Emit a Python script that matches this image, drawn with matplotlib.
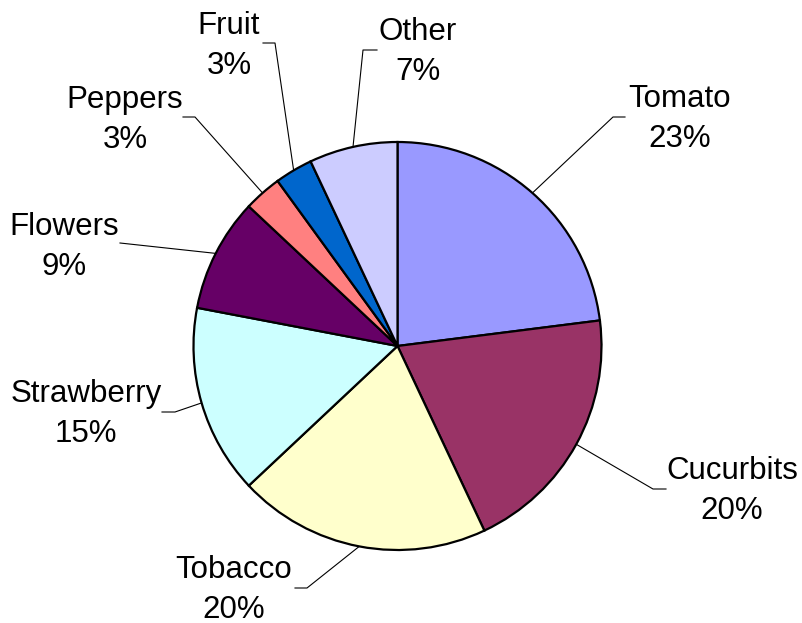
import matplotlib
matplotlib.use("Agg")
import matplotlib.pyplot as plt
import numpy as np

# Crop shares (percent), clockwise from 12 o'clock
categories = ["Tomato", "Cucurbits", "Tobacco", "Strawberry", "Flowers",
              "Peppers", "Fruit", "Other"]
shares = [23, 20, 20, 15, 9, 3, 3, 7]
colors = ["#9999FF", "#993366", "#FFFFCC", "#CCFFFF", "#660066",
          "#FF8080", "#0066CC", "#CCCCFF"]

W, H = 802, 623
fig = plt.figure(figsize=(W / 100, H / 100), dpi=100)
ax = fig.add_axes([0, 0, 1, 1])

cx, cy, r = 397.5, H - 346, 204
wedges, _ = ax.pie(shares, colors=colors, startangle=90, counterclock=False,
                   center=(cx, cy), radius=r, frame=True,
                   wedgeprops=dict(edgecolor="black", linewidth=1.6))
ax.set_xlim(0, W)
ax.set_ylim(0, H)
ax.set_aspect("equal")
ax.axis("off")

# label centres and leader-line elbows / ends (pixel layout, y downward)
label_xy = [(680, 119), (732, 491), (234, 590), (86, 414), (64, 247),
            (125, 120), (229, 46), (418, 52)]
elbow_xy = [(613, 117), (653, 489), (307, 588), (175, 412), None,
            (195, 117), (275, 43), (363, 50)]
end_xy = [(625, 117), (666, 489), (295, 588), (162, 412), (120, 243),
          (183, 117), (263, 43), (377, 50)]

for w, name, val, lxy, exy, txy in zip(wedges, categories, shares,
                                       label_xy, elbow_xy, end_xy):
    ang = np.deg2rad((w.theta1 + w.theta2) / 2)
    px, py = cx + r * np.cos(ang), cy + r * np.sin(ang)
    xs, ys = [px], [py]
    if exy is not None:
        xs.append(exy[0]); ys.append(H - exy[1])
    xs.append(txy[0]); ys.append(H - txy[1])
    ax.plot(xs, ys, color="black", linewidth=0.8, zorder=0.5)
    ax.text(lxy[0], H - lxy[1], f"{name}\n{val}%", ha="center", va="center",
            fontsize=22.5, family="Liberation Sans", linespacing=1.4)

fig.savefig("out.png", dpi=100)
